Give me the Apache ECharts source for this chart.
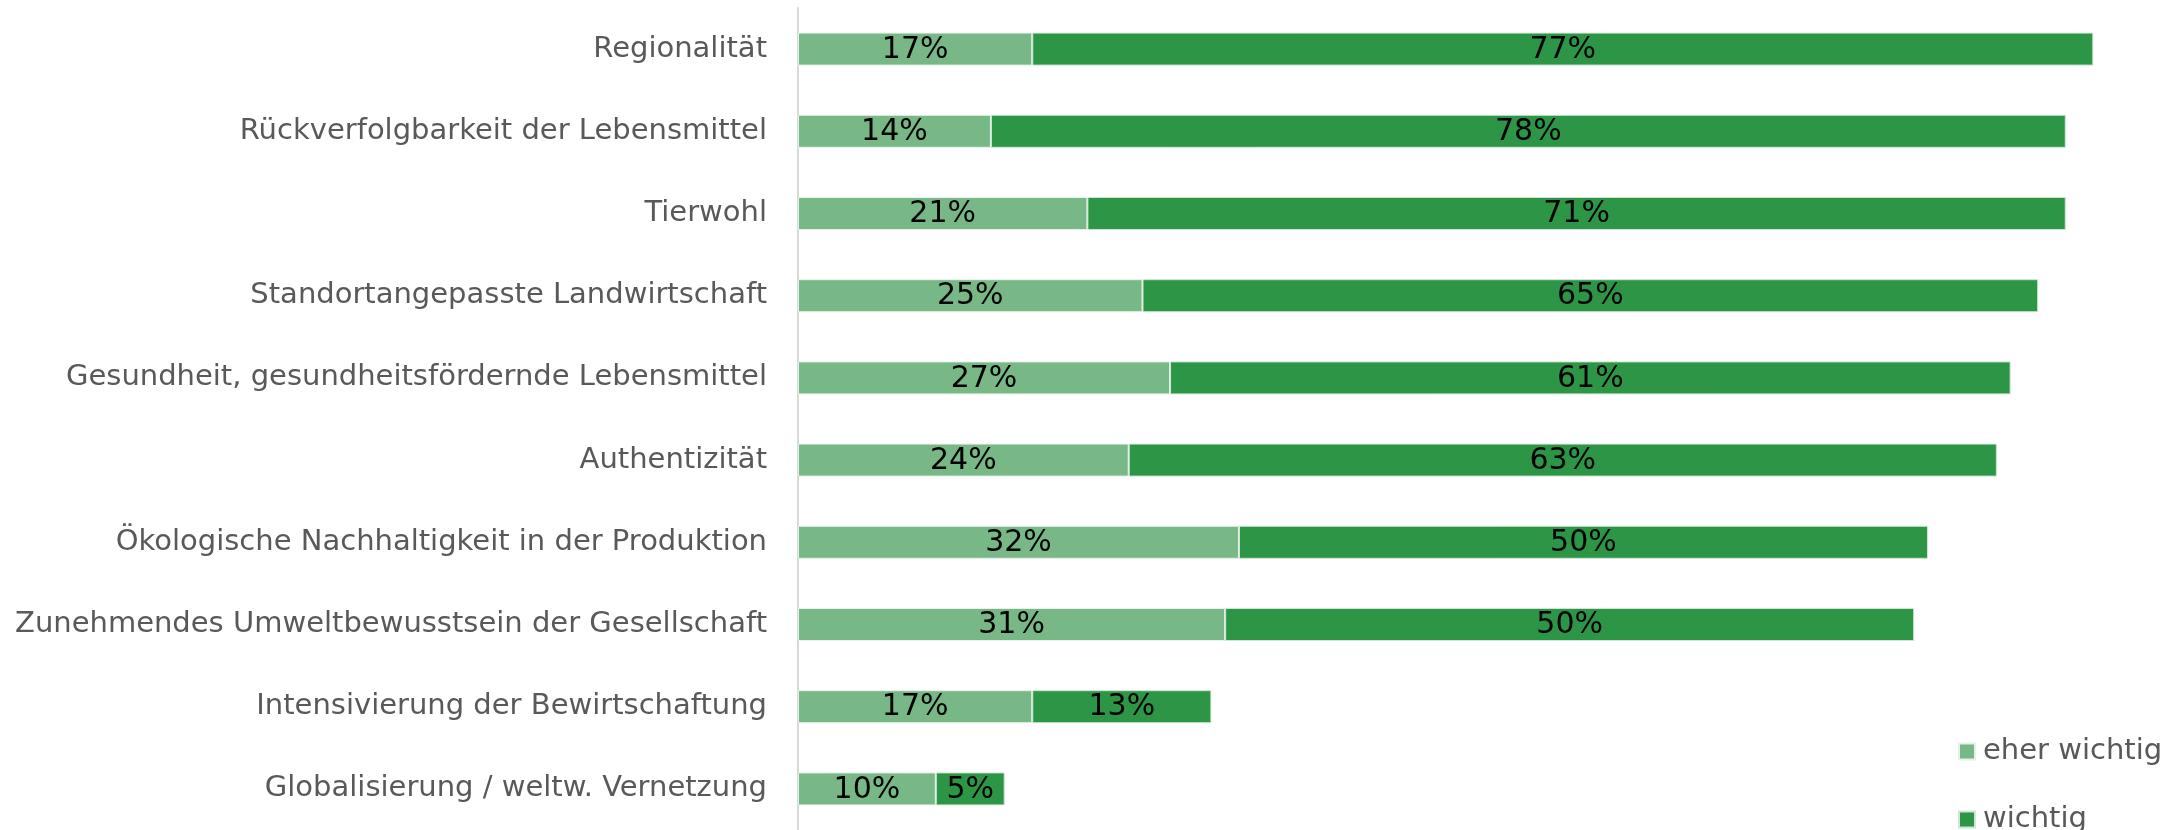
<!DOCTYPE html>
<html>
<head>
<meta charset="utf-8">
<script src="https://cdn.jsdelivr.net/npm/echarts@6/dist/echarts.min.js"></script>
<style>
  html, body { margin: 0; padding: 0; background: #fff; }
  #chart { width: 2176px; height: 830px; }
</style>
</head>
<body>
<div id="chart"></div>
<script>
// Kategorien (von oben nach unten)
const categories = [
  'Regionalität',
  'Rückverfolgbarkeit der Lebensmittel',
  'Tierwohl',
  'Standortangepasste Landwirtschaft',
  'Gesundheit, gesundheitsfördernde Lebensmittel',
  'Authentizität',
  'Ökologische Nachhaltigkeit in der Produktion',
  'Zunehmendes Umweltbewusstsein der Gesellschaft',
  'Intensivierung der Bewirtschaftung',
  'Globalisierung / weltw. Vernetzung'
];

// Anteile in Prozent
const eherWichtig = [17, 14, 21, 25, 27, 24, 32, 31, 17, 10];
const wichtig     = [77, 78, 71, 65, 61, 63, 50, 50, 13, 5];

const seriesNames = ['eher wichtig', 'wichtig'];

const FONT = '"DejaVu Sans", Verdana, sans-serif';
const LIGHT = '#77b886';
const DARK = '#2d9546';

const chart = echarts.init(document.getElementById('chart'), null, { renderer: 'canvas' });

const labelStyle = {
  show: true,
  position: 'inside',
  color: '#000',
  fontFamily: FONT,
  fontSize: 30,
  offset: [0, 1],
  formatter: p => p.value + '%'
};

// one legend box per entry so the two rows stack without wrapping
const legendBase = {
  orient: 'vertical',
  left: 1958,
  itemWidth: 16,
  itemHeight: 16,
  icon: 'rect',
  padding: 0,
  textStyle: { color: '#595959', fontFamily: FONT, fontSize: 29, padding: [0, 0, 0, 3] }
};

chart.setOption({
  animation: false,
  backgroundColor: '#fff',
  grid: { left: 798, right: -4, top: 8, bottom: -3, containLabel: false },
  xAxis: {
    type: 'value',
    min: 0,
    max: 100,
    show: false
  },
  yAxis: {
    type: 'category',
    data: categories,
    inverse: true,
    axisTick: { show: false },
    axisLine: { show: true, lineStyle: { color: '#d9d9d9', width: 2 } },
    axisLabel: {
      color: '#595959',
      fontFamily: FONT,
      fontSize: 29,
      margin: 31
    }
  },
  legend: [
    Object.assign({}, legendBase, { top: 737, data: [seriesNames[0]] }),
    Object.assign({}, legendBase, { top: 805, data: [seriesNames[1]] })
  ],
  series: [
    {
      name: seriesNames[0],
      type: 'bar',
      stack: 'total',
      barWidth: 33,
      data: eherWichtig,
      itemStyle: { color: LIGHT, borderColor: '#e6f2e8', borderWidth: 1 },
      label: labelStyle
    },
    {
      name: seriesNames[1],
      type: 'bar',
      stack: 'total',
      barWidth: 33,
      data: wichtig,
      itemStyle: { color: DARK, borderColor: '#cfe6d4', borderWidth: 1 },
      label: labelStyle
    }
  ]
});
</script>
</body>
</html>
